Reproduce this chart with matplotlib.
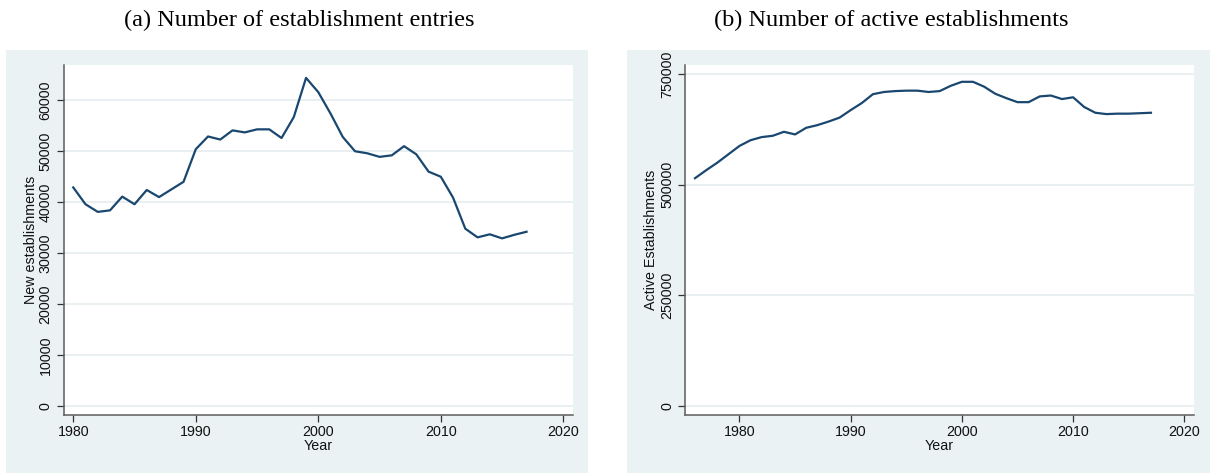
import matplotlib
matplotlib.use("Agg")
import matplotlib.pyplot as plt
from matplotlib.patches import Rectangle

# ---- data ----
years_a = list(range(1980, 2018))
entries = [42900, 39600, 38100, 38400, 41100, 39600, 42400, 41000, 42500, 44000,
           50400, 52900, 52300, 54100, 53700, 54300, 54300, 52600, 56700, 64400,
           61600, 57400, 52800, 50000, 49600, 48900, 49200, 51000, 49400, 46000,
           45000, 40900, 34800, 33100, 33700, 32900, 33600, 34200]

years_b = list(range(1976, 2018))
active = [515000, 533000, 550000, 569000, 588000, 601000, 608000, 611000, 620000, 614000,
          629000, 635000, 643000, 652000, 669000, 685000, 705000, 710000, 712000, 713000,
          713000, 710000, 712000, 724000, 733000, 733000, 722000, 706000, 696000, 687000,
          687000, 700000, 702000, 694000, 698000, 676000, 663000, 660000, 661000, 661000,
          662000, 663000]

yticks_a = [0, 10000, 20000, 30000, 40000, 50000, 60000]
yticks_b = [0, 250000, 500000, 750000]
xticks = [1980, 1990, 2000, 2010, 2020]

title_a = "(a) Number of establishment entries"
title_b = "(b) Number of active establishments"
ylabel_a = "New establishments"
ylabel_b = "Active Establishments"
xlabel = "Year"

# ---- style ----
W, H = 1210, 475
BG = "#eaf2f3"
GRID = "#e4eced"
LINE = "#1a476f"
AXC = "#5c5c5c"
plt.rcParams['font.family'] = ['Liberation Sans', 'DejaVu Sans']
FS = 10.3

fig = plt.figure(figsize=(W / 100, H / 100), dpi=100)
fig.patch.set_facecolor("white")

def px_rect(x0, y0, x1, y1):
    return [x0 / W, 1 - y1 / H, (x1 - x0) / W, (y1 - y0) / H]

for (x0, x1) in [(6, 588), (627, 1210)]:
    r = px_rect(x0, 50, x1, 473)
    fig.patches.append(Rectangle((r[0], r[1]), r[2], r[3], transform=fig.transFigure,
                                 facecolor=BG, edgecolor="none", zorder=-10))

def make_axes(left, right, xs, ys, yticks, xlim, ylim, ylabel, ylab_x):
    ax = fig.add_axes(px_rect(left, 65, right, 415))
    ax.set_zorder(5)
    ax.set_facecolor("white")
    ax.plot(xs, ys, color=LINE, lw=1.6, zorder=3)
    ax.set_xlim(*xlim)
    ax.set_ylim(*ylim)
    ax.set_xticks(xticks)
    ax.set_yticks(yticks)
    ax.set_yticklabels([str(v) for v in yticks], rotation=90, va="center")
    ax.tick_params(axis="both", labelsize=FS, length=5, width=0.9, color="#333333",
                   labelcolor="#111111")
    ax.tick_params(axis="y", pad=3)
    ax.tick_params(axis="x", pad=2.5)
    for v in yticks:
        ax.axhline(v, color=GRID, lw=1.1, zorder=1)
    for s in ["top", "right"]:
        ax.spines[s].set_visible(False)
    for s in ["left", "bottom"]:
        ax.spines[s].set_color(AXC)
        ax.spines[s].set_linewidth(1.1)
    ax.set_ylabel(ylabel, fontsize=FS, color="#111111")
    ax.yaxis.label.set_va("center")
    ax.yaxis.set_label_coords(ylab_x, 0.5)
    ax.set_xlabel(xlabel, fontsize=FS, color="#111111")
    ax.xaxis.label.set_va("center")
    ax.xaxis.set_label_coords(0.5, -0.088)
    return ax

make_axes(63.7, 573, years_a, entries, yticks_a, (1979.22, 2020.79), (-1766, 66930),
          ylabel_a, -0.065)
make_axes(685.4, 1194, years_b, active, yticks_b, (1975.14, 2020.87), (-20300, 771000),
          ylabel_b, -0.067)

tfont = ['Liberation Serif', 'DejaVu Serif']
fig.text(299 / W, 1 - 20.5 / H, title_a, ha="center", va="center", fontsize=17.5,
         family=tfont, color="black")
fig.text(891 / W, 1 - 20.5 / H, title_b, ha="center", va="center", fontsize=17.5,
         family=tfont, color="black")

fig.savefig("out.png", dpi=100, facecolor="white")
